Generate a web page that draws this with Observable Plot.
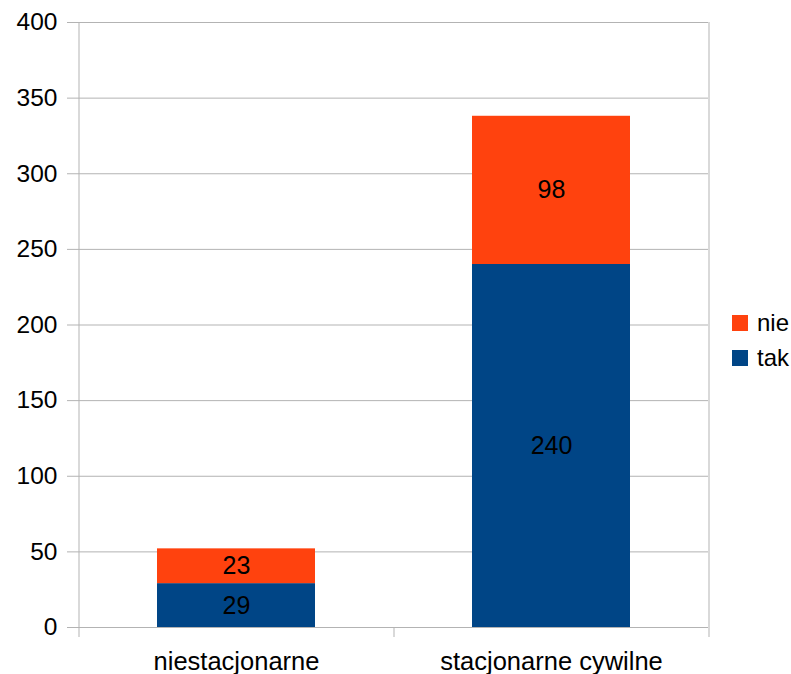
<!DOCTYPE html>
<html>
<head>
<meta charset="utf-8">
<script src="https://cdn.jsdelivr.net/npm/d3@7"></script>
<script src="https://cdn.jsdelivr.net/npm/@observablehq/plot@0.6"></script>
<style>
  html, body { margin: 0; padding: 0; background: #fff; }
  #wrap { position: relative; width: 791px; height: 674px; font-family: "Liberation Sans", Arial, sans-serif; }
  #legend { position: absolute; left: 732px; top: 313px; font-size: 24px; color: #000; }
  .item { display: flex; align-items: center; height: 20px; line-height: 20px; margin-bottom: 15px; }
  .sw { width: 16px; height: 16px; margin-right: 9px; }
</style>
</head>
<body>
<div id="wrap"></div>
<script>
const categories = ["niestacjonarne", "stacjonarne cywilne"];
const seriesNames = ["tak", "nie"];
const takValues = [29, 240];
const nieValues = [23, 98];
const seriesColors = ["#004586", "#ff420e"];
const yTicks = [0, 50, 100, 150, 200, 250, 300, 350, 400];

const data = [];
categories.forEach((c, i) => {
  data.push({cat: c, series: "tak", value: takValues[i]});
  data.push({cat: c, series: "nie", value: nieValues[i]});
});

const W = 791, H = 674, mL = 78, mR = 83, mT = 22, mB = 47;
const half = (W - mL - mR) / categories.length / 2;
const grid = "#b3b3b3";

const chart = Plot.plot({
  width: W, height: H,
  marginLeft: mL, marginRight: mR, marginTop: mT, marginBottom: mB,
  style: {fontFamily: "Liberation Sans, Arial, sans-serif", fontSize: "24px", background: "white", color: "black"},
  x: {type: "band", domain: categories, paddingInner: 0.5, paddingOuter: 0.25, axis: null},
  y: {domain: [0, 400], axis: null},
  color: {domain: seriesNames, range: seriesColors},
  marks: [
    Plot.gridY(yTicks, {stroke: grid, strokeOpacity: 1}),
    Plot.axisY(yTicks, {tickSize: 11, tickPadding: 10, stroke: grid, strokeOpacity: 1, fill: "black", fontSize: 24.5, label: null}),
    Plot.barY(data, {x: "cat", y: "value", fill: "series"}),
    Plot.text(data, Plot.stackY({x: "cat", y: "value", text: d => String(d.value), fontSize: 25, fill: "black"})),
    Plot.ruleX([categories[0]], {x: d => d, dx: -half, y1: 400, y2: 0, insetBottom: -10, stroke: grid}),
    Plot.ruleX([categories[categories.length - 1]], {x: d => d, dx: half, y1: 400, y2: 0, insetBottom: -10, stroke: grid}),
    Plot.ruleX(categories.slice(1), {x: d => d, dx: -half, y1: 0, y2: 0, insetBottom: -10, stroke: grid}),
    Plot.axisX(categories, {tickSize: 0, tickPadding: 24, fill: "black", fontSize: 25.5, label: null})
  ]
});

const wrap = document.getElementById("wrap");
wrap.appendChild(chart);

const legend = document.createElement("div");
legend.id = "legend";
[...seriesNames].reverse().forEach(name => {
  const item = document.createElement("div");
  item.className = "item";
  const sw = document.createElement("div");
  sw.className = "sw";
  sw.style.background = seriesColors[seriesNames.indexOf(name)];
  const t = document.createElement("span");
  t.textContent = name;
  item.appendChild(sw);
  item.appendChild(t);
  legend.appendChild(item);
});
wrap.appendChild(legend);
</script>
</body>
</html>
